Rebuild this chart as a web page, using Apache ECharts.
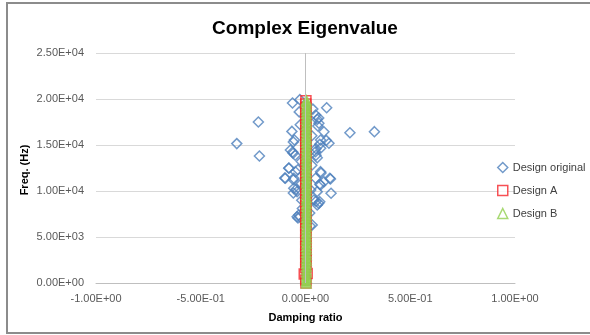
<!DOCTYPE html>
<html>
<head>
<meta charset="utf-8">
<script src="https://cdn.jsdelivr.net/npm/echarts@6/dist/echarts.min.js"></script>
<style>
html,body{margin:0;padding:0;background:#fff;}
#chart{width:590px;height:335px;}
</style>
</head>
<body>
<div id="chart"></div>
<script>
// ---- data ----
var titleText = 'Complex Eigenvalue';
var xName = 'Damping ratio';
var yName = 'Freq. (Hz)';
var seriesNames = ['Design original', 'Design A', 'Design B'];
var xTicks = [-1, -0.5, 0, 0.5, 1];
var yTicks = [0, 5000, 10000, 15000, 20000, 25000];

// Design original: [damping ratio, frequency Hz]
var designOriginal = [
  [-0.328, 15150], [-0.225, 17500], [-0.220, 13800], [0.212, 16330], [0.329, 16450],
  [0.101, 19050], [0.099, 15500], [0.119, 11300], [0.122, 9760], [0.063, 17930],
  [0.059, 17060], [0.074, 11960], [0.072, 10650], [0.063, 8660], [0.050, 8880],
  [0.068, 15070], [0.050, 13880], [0.050, 14600], [-0.062, 19560], [-0.027, 19930],
  [-0.065, 16480], [-0.058, 15330], [-0.061, 14240], [-0.049, 13880], [-0.079, 12500],
  [-0.099, 11410], [-0.058, 11230], [-0.058, 9780], [-0.036, 12320], [-0.045, 10180],
  [-0.027, 7170], [-0.036, 7060], [0.022, 6200], [-0.018, 8990], [0.048, 18260],
  [0.064, 17360], [0.056, 17790], [0.088, 16450], [-0.053, 15550], [0.072, 15550],
  [0.112, 15190], [-0.072, 14460], [-0.059, 14100], [0.048, 14270], [0.072, 14640],
  [0.056, 13620], [-0.080, 12470], [-0.048, 12100], [-0.096, 11380], [-0.056, 11380],
  [0.072, 12100], [0.048, 11380], [0.116, 11380], [0.088, 11010], [0.068, 10730],
  [-0.056, 10290], [-0.040, 9930], [0.056, 9930], [0.040, 9020], [0.068, 8840],
  [0.056, 8480], [-0.032, 7390], [-0.040, 7210], [0.032, 6300], [-0.030, 18600],
  [0.035, 18900], [-0.025, 17200], [0.030, 16000], [-0.020, 13200], [0.030, 12800],
  [-0.020, 10800], [0.025, 10100], [-0.015, 8100], [0.020, 7600]
];

// Design A (red squares)
var designA = [
  [0.002, 0], [0.001, 330], [-0.006, 980], [0.008, 1040], [0.001, 1650], [0.002, 2010],
  [0.001, 2430], [0.002, 2760], [0.001, 3190], [0.002, 3520], [0.001, 3940], [0.002, 4300],
  [0.001, 4720], [0.002, 5080], [0.001, 5460], [0.002, 5870], [0.001, 6230], [0.002, 6640],
  [0.001, 7010], [0.002, 7390], [0.001, 7820], [0.002, 8170], [0.001, 8560], [0.002, 8980],
  [0.001, 9340], [0.002, 9760], [0.001, 10120], [0.002, 10530], [0.001, 10890], [0.002, 11310],
  [0.001, 11680], [0.002, 12070], [0.001, 12480], [0.002, 12860], [0.001, 13230], [0.002, 13650],
  [0.001, 14020], [0.002, 14410], [0.001, 14790], [0.002, 15200], [0.001, 15580], [0.002, 15970],
  [0.001, 16360], [0.002, 16740], [0.001, 17150], [0.002, 17530], [0.001, 17920], [0.002, 18310],
  [0.001, 18690], [0.002, 19080], [0.001, 19450], [0.002, 19800]
];

// Design B (green triangles)
var designB = [
  [0.004, 0], [0.004, 260], [0.005, 590], [0.004, 870], [0.005, 1200], [0.004, 1490],
  [0.005, 1830], [0.004, 2110], [0.005, 2440], [0.004, 2720], [0.005, 3060], [0.004, 3350],
  [0.005, 3690], [0.004, 3970], [0.005, 4300], [0.004, 4610], [0.005, 4920], [0.004, 5240],
  [0.005, 5550], [0.004, 5870], [0.005, 6180], [0.004, 6500], [0.005, 6790], [0.004, 7130],
  [0.005, 7420], [0.004, 7750], [0.005, 8050], [0.004, 8380], [0.005, 8670], [0.004, 9010],
  [0.005, 9300], [0.004, 9630], [0.005, 9940], [0.004, 10260], [0.005, 10570], [0.004, 10890],
  [0.005, 11200], [0.004, 11510], [0.005, 11830], [0.004, 12140], [0.005, 12460], [0.004, 12760],
  [0.005, 13090], [0.004, 13390], [0.005, 13710], [0.004, 14020], [0.005, 14340], [0.004, 14650],
  [0.005, 14970], [0.004, 15280], [0.005, 15600], [0.004, 15910], [0.005, 16230], [0.004, 16540],
  [0.005, 16860], [0.004, 17170], [0.005, 17490], [0.004, 17800], [0.005, 18120], [0.004, 18430],
  [0.005, 18750], [0.004, 19060], [0.005, 19380], [0.004, 19700], [0.004, 19900]
];

// ---- styling ----
var colBlue = '#4F81BD', colRed = '#F5262A', colGreen = '#92D050';
var labelFont = 'Liberation Sans';

function excelExp(v) {
  var s = Number(v).toExponential(2);
  var parts = s.split('e');
  var e = parseInt(parts[1], 10);
  var sign = e < 0 ? '-' : '+';
  var n = Math.abs(e);
  return parts[0] + 'E' + sign + (n < 10 ? '0' : '') + n;
}

var chart = echarts.init(document.getElementById('chart'), null, {renderer: 'canvas'});
chart.setOption({
  animation: false,
  backgroundColor: '#fff',
  graphic: [{
    type: 'rect', silent: true, z: 100,
    shape: {x: 7, y: 3, width: 600, height: 330},
    style: {fill: 'none', stroke: '#8c8c8c', lineWidth: 2}
  }, {
    type: 'text', silent: true, x: 25, y: 170, rotation: Math.PI / 2,
    style: {text: yName, fontFamily: labelFont, fontWeight: 'bold', fontSize: 11, fill: '#000',
            align: 'center', verticalAlign: 'middle'}
  }],
  title: {
    text: titleText, left: 300, top: 14, textAlign: 'center',
    textStyle: {fontFamily: labelFont, fontWeight: 'bold', fontSize: 19, color: '#000'}
  },
  legend: {
    orient: 'vertical', left: 492, top: 156, itemGap: 10,
    itemWidth: 10, itemHeight: 10,
    textStyle: {fontFamily: labelFont, fontSize: 11, color: '#404040', lineHeight: 13},
    data: [
      {name: seriesNames[0], icon: 'diamond', itemStyle: {color: '#fff', borderColor: colBlue, borderWidth: 1.5}},
      {name: seriesNames[1], icon: 'rect', itemStyle: {color: '#fff', borderColor: colRed, borderWidth: 1.5}},
      {name: seriesNames[2], icon: 'triangle', itemStyle: {color: '#fff', borderColor: colGreen, borderWidth: 1.5}}
    ]
  },
  grid: {left: 96, right: 75, top: 53, bottom: 52},
  xAxis: {
    type: 'value', min: xTicks[0], max: xTicks[xTicks.length - 1], interval: 0.5,
    name: xName, nameLocation: 'middle', nameGap: 29,
    nameTextStyle: {fontFamily: labelFont, fontWeight: 'bold', fontSize: 11, color: '#000'},
    axisLine: {show: true, onZero: false, lineStyle: {color: '#bfbfbf', width: 1}},
    axisTick: {show: false},
    splitLine: {show: false},
    axisLabel: {fontFamily: labelFont, fontSize: 11, color: '#595959', margin: 10, formatter: excelExp}
  },
  yAxis: {
    type: 'value', min: yTicks[0], max: yTicks[yTicks.length - 1], interval: 5000,
    axisLine: {show: false},
    axisTick: {show: false},
    splitLine: {show: true, lineStyle: {color: '#d9d9d9', width: 1}},
    axisLabel: {fontFamily: labelFont, fontSize: 11, color: '#595959', margin: 12, formatter: excelExp}
  },
  series: [
    {
      name: seriesNames[0], type: 'scatter', data: designOriginal,
      symbol: 'diamond', symbolSize: 10,
      itemStyle: {color: 'rgba(255,255,255,0)', borderColor: colBlue, borderWidth: 1.5},
      markLine: {
        silent: true, symbol: 'none', label: {show: false},
        lineStyle: {color: '#bfbfbf', width: 1, type: 'solid'},
        data: [{xAxis: 0}]
      },
      z: 2
    },
    {
      name: seriesNames[1], type: 'scatter', data: designA,
      symbol: 'rect', symbolSize: 10,
      itemStyle: {color: 'rgba(255,255,255,0)', borderColor: colRed, borderWidth: 1.5},
      z: 3
    },
    {
      name: seriesNames[2], type: 'scatter', data: designB,
      symbol: 'triangle', symbolSize: 11,
      itemStyle: {color: colGreen, borderColor: colGreen, borderWidth: 0.5},
      z: 4
    }
  ]
});
</script>
</body>
</html>
